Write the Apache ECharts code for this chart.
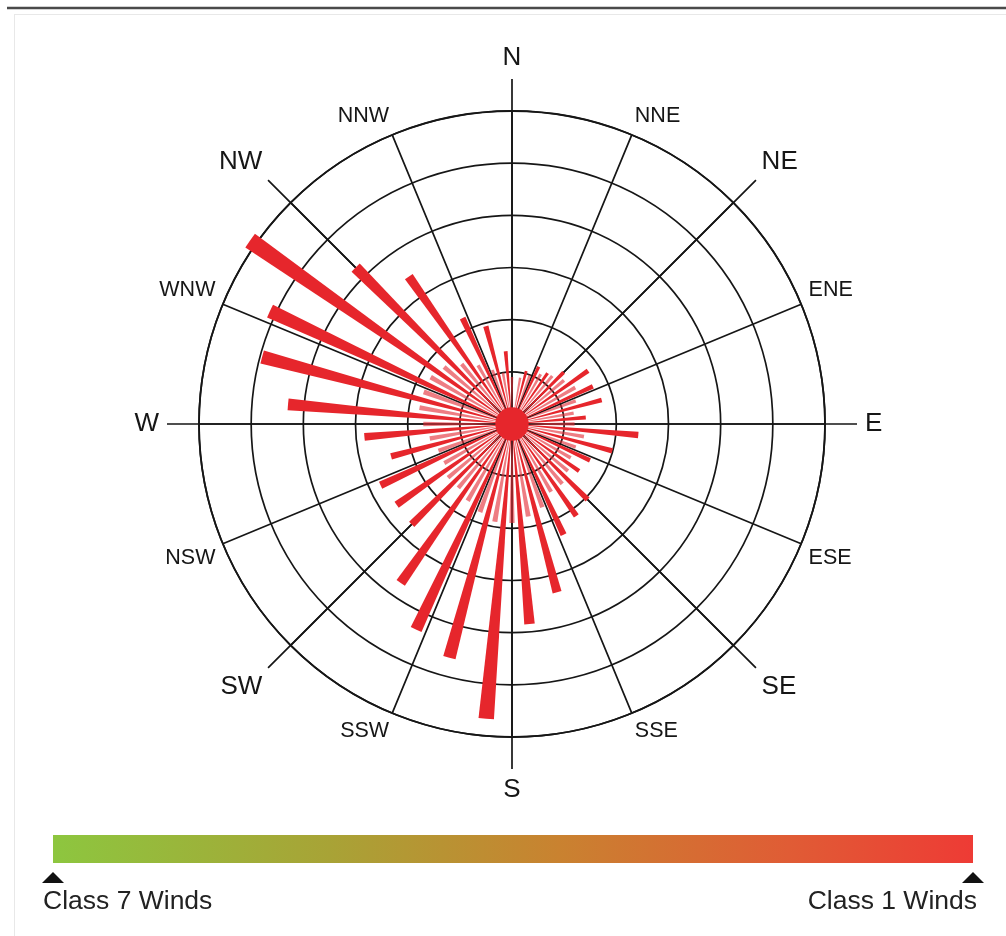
<!DOCTYPE html>
<html>
<head>
<meta charset="utf-8">
<title>Wind rose</title>
<script src="https://cdn.jsdelivr.net/npm/echarts@6/dist/echarts.min.js"></script>
<style>
  html, body { margin: 0; padding: 0; background: #fff; }
  #chart { width: 1006px; height: 936px; }
</style>
</head>
<body>
<div id="chart"></div>
<script>
// compass labels
var mainDirs = ['N', 'NE', 'E', 'SE', 'S', 'SW', 'W', 'NW'];
var subDirs = ['N', 'NNE', 'NE', 'ENE', 'E', 'ESE', 'SE', 'SSE',
               'S', 'SSW', 'SW', 'NSW', 'W', 'WNW', 'NW', 'NNW'];

// strong bars, centred on 5,15,25 ... 355 deg (rings = 1 unit)
var strongWinds = [0.3, 1.05, 1.21, 1.19, 1.40, 1.78, 1.71, 1.78, 1.42,
                   2.43, 1.99, 1.65, 1.57, 2.05, 2.15, 2.34, 3.34, 3.85,
                   5.67, 4.64, 4.35, 3.72, 2.72, 2.70, 2.78, 2.40, 2.84,
                   4.31, 4.96, 5.12, 6.13, 4.24, 3.45, 2.24, 1.94, 1.40];
// light bars, centred on 0,10,20 ... 350 deg
var lightWinds = [0.9, 0.9, 1.0, 1.1, 1.2, 1.3, 1.4, 1.3, 1.2,
                  1.2, 1.4, 1.3, 1.3, 1.4, 1.5, 1.5, 1.7, 1.8,
                  1.9, 1.9, 1.8, 1.7, 1.6, 1.6, 1.5, 1.5, 1.6,
                  1.7, 1.8, 1.8, 1.8, 1.7, 1.5, 1.3, 1.1, 1.0];
var calmRadius = [0.32];

var sectors = [], strongData = [], lightData = [];
for (var i = 0; i < 72; i++) {
    sectors.push(String(i * 5));
    if (i % 2 == 1) {
        strongData.push(strongWinds[(i - 1) / 2]);
        lightData.push(0);
    } else {
        strongData.push(0);
        lightData.push(lightWinds[i / 2]);
    }
}

var FONT = '"Liberation Sans", Arial, Helvetica, sans-serif';
var INK = '#161616';
var RED = '#e6262c';
var CENTER = [512, 424];

var myChart = echarts.init(document.getElementById('chart'));

var option = {
    backgroundColor: '#fff',
    animation: false,
    polar: [
        {center: CENTER, radius: 313},   // rings + 16 spokes
        {center: CENTER, radius: 345},   // 8 long spokes
        {center: CENTER, radius: 313},   // wind bars
        {center: CENTER, radius: 313}    // calm disc
    ],
    angleAxis: [
        {
            polarIndex: 0,
            type: 'value',
            min: 0,
            max: 360,
            interval: 22.5,
            startAngle: 90,
            clockwise: true,
            axisLine: {lineStyle: {color: INK, width: 1.8}},
            axisTick: {show: false},
            splitLine: {show: true, lineStyle: {color: INK, width: 1.7}},
            axisLabel: {
                margin: 8,
                fontSize: 21.5,
                fontFamily: FONT,
                color: INK,
                formatter: function (value) {
                    var k = Math.round(value / 22.5) % 16;
                    return k % 2 == 1 ? subDirs[k] : '';
                }
            }
        },
        {
            polarIndex: 1,
            type: 'category',
            data: mainDirs,
            boundaryGap: false,
            startAngle: 90,
            clockwise: true,
            axisLine: {show: false},
            axisTick: {show: false},
            splitLine: {show: true, lineStyle: {color: INK, width: 1.7}},
            axisLabel: {
                margin: 8,
                fontSize: 26,
                fontFamily: FONT,
                color: INK,
                interval: 0
            }
        },
        {
            polarIndex: 2,
            type: 'category',
            data: sectors,
            startAngle: 92.5,
            clockwise: true,
            show: false
        },
        {
            polarIndex: 3,
            type: 'category',
            data: ['calm'],
            show: false
        }
    ],
    radiusAxis: [
        {
            polarIndex: 0,
            type: 'value',
            min: 0,
            max: 6,
            interval: 1,
            axisLine: {show: false},
            axisTick: {show: false},
            axisLabel: {show: false},
            splitLine: {show: true, lineStyle: {color: INK, width: 1.7}}
        },
        {polarIndex: 1, type: 'value', min: 0, max: 1, show: false},
        {polarIndex: 2, type: 'value', min: 0, max: 6, show: false},
        {polarIndex: 3, type: 'value', min: 0, max: 6, show: false}
    ],
    series: [
        {
            name: 'light',
            type: 'bar',
            coordinateSystem: 'polar',
            polarIndex: 2,
            stack: 'rose',
            barWidth: '60%',
            clip: false,
            data: lightData,
            itemStyle: {color: 'rgba(228, 45, 55, 0.62)'}
        },
        {
            name: 'strong',
            type: 'bar',
            coordinateSystem: 'polar',
            polarIndex: 2,
            stack: 'rose',
            barWidth: '60%',
            clip: false,
            data: strongData,
            itemStyle: {color: RED}
        },
        {
            name: 'calm',
            type: 'bar',
            coordinateSystem: 'polar',
            polarIndex: 3,
            barWidth: '100%',
            data: calmRadius,
            itemStyle: {color: RED}
        }
    ],
    graphic: [
        {type: 'line', shape: {x1: 7, y1: 8, x2: 1006, y2: 8}, style: {stroke: '#4a4a4a', lineWidth: 2.5}},
        {type: 'line', shape: {x1: 14, y1: 14.5, x2: 1006, y2: 14.5}, style: {stroke: '#e8e8e8', lineWidth: 1}},
        {type: 'line', shape: {x1: 14.5, y1: 14, x2: 14.5, y2: 936}, style: {stroke: '#e8e8e8', lineWidth: 1}},
        {
            type: 'rect',
            shape: {x: 53, y: 835, width: 920, height: 28},
            style: {
                fill: new echarts.graphic.LinearGradient(0, 0, 1, 0, [
                    {offset: 0, color: '#8dc63f'},
                    {offset: 0.3, color: '#a8a336'},
                    {offset: 0.55, color: '#c98230'},
                    {offset: 0.8, color: '#e05c35'},
                    {offset: 1, color: '#ee3b35'}
                ])
            }
        },
        {type: 'polygon', shape: {points: [[42, 883], [53, 872], [64, 883]]}, style: {fill: '#111'}},
        {type: 'polygon', shape: {points: [[962, 883], [973, 872], [984, 883]]}, style: {fill: '#111'}},
        {
            type: 'text',
            style: {text: 'Class 7 Winds', x: 43, y: 902, verticalAlign: 'middle',
                    fontSize: 26.5, fontFamily: FONT, fill: '#222'}
        },
        {
            type: 'text',
            style: {text: 'Class 1 Winds', x: 977, y: 902, align: 'right', verticalAlign: 'middle',
                    fontSize: 26.5, fontFamily: FONT, fill: '#222'}
        }
    ]
};
myChart.setOption(option);
</script>
</body>
</html>
